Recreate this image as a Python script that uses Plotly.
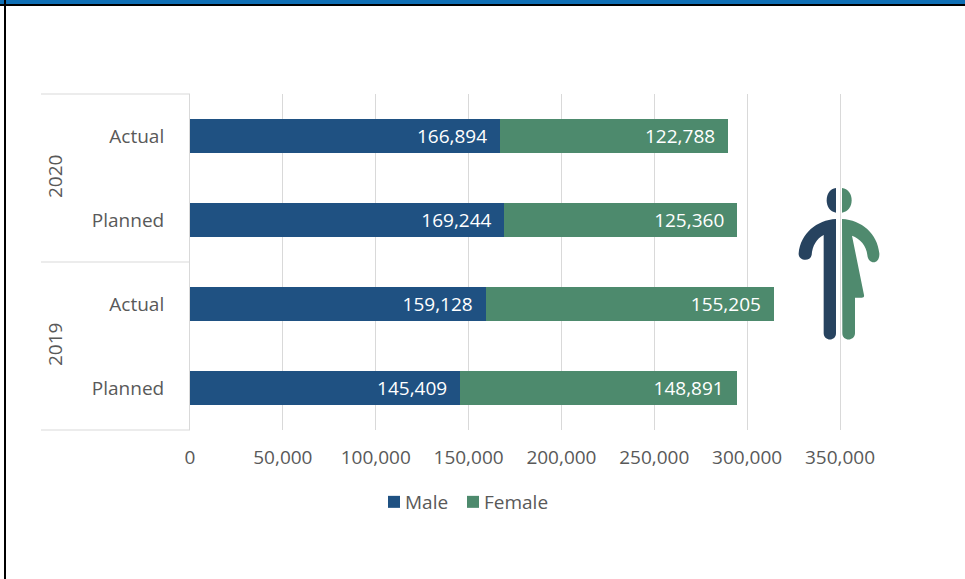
import plotly.graph_objects as go

years = ["2019", "2019", "2020", "2020"]
kinds = ["Planned", "Actual", "Planned", "Actual"]
male = [145409, 159128, 169244, 166894]
female = [148891, 155205, 125360, 122788]
x_ticks = [0, 50000, 100000, 150000, 200000, 250000, 300000, 350000]
year_labels = ["2019", "2020"]

W, H = 965, 579
L, R, T, B = 190, 843, 94, 430
TXT = "#595959"
FONT = "Open Sans"
SIZE = 19
LINE = "#D9D9D9"

def px(x, y):
    return (x - L) / (R - L), (B - y) / (B - T)

def icon(points):
    out = ""
    for p in points:
        out += p[0]
        c = []
        for i in range(1, len(p), 2):
            a, b = px(780 + p[i] / 3, 170 + p[i + 1] / 3)
            c.append(f"{a:.5f},{b:.5f}")
        out += " ".join(c)
    return out + "Z"

dark_head = [("M", 168, 54), ("C", 150, 56, 140, 72, 140, 91), ("C", 140, 110, 150, 126, 168, 128)]
dark_body = [("M", 168, 147), ("C", 110, 150, 62, 190, 56, 250), ("C", 54, 272, 90, 278, 95, 255),
             ("C", 97, 228, 110, 205, 131, 195), ("L", 131, 490), ("C", 132, 515, 168, 515, 168, 490)]
green_head = [("M", 186, 54), ("C", 204, 56, 215, 72, 215, 91), ("C", 215, 110, 204, 126, 186, 128)]
green_body = [("M", 186, 147), ("C", 245, 150, 292, 190, 298, 250), ("C", 300, 285, 265, 285, 262, 255),
              ("C", 260, 228, 240, 205, 216, 197), ("L", 252, 375), ("C", 253, 381, 250, 383, 245, 383),
              ("L", 225, 383), ("L", 225, 490), ("C", 224, 515, 187, 515, 187, 490)]

y = [f"{a} {b}" for a, b in zip(years, kinds)]
fig = go.Figure()
common = dict(orientation="h", y=y, texttemplate="%{x:,}\u00a0\u00a0", textposition="inside",
              insidetextanchor="end", insidetextfont=dict(color="white", size=SIZE, family=FONT),
              cliponaxis=False)
fig.add_bar(name="Male", x=male, marker=dict(color="#1F5182", line=dict(width=0)), **common)
fig.add_bar(name="Female", x=female, marker=dict(color="#4D8A6D", line=dict(width=0)), **common)

def rect(x0, x1, y0, y1, col):
    return dict(type="rect", xref="paper", yref="paper", x0=px(x0, 0)[0], x1=px(x1, 0)[0],
                y0=px(0, y0)[1], y1=px(0, y1)[1], fillcolor=col, line_width=0)

shapes = [rect(0, W, 0, 6, "#000000"), rect(0, W, 0, 4, "#0F6FB5"), rect(4, 6, 0, H, "#000000")]
for yy in (94, 262, 430):
    shapes.append(dict(type="line", xref="paper", yref="paper", x0=px(41, 0)[0], x1=0,
                       y0=px(0, yy)[1], y1=px(0, yy)[1], line=dict(color=LINE, width=1)))
for path, col in [(dark_head, "#27435F"), (dark_body, "#27435F"), (green_head, "#4F8A6E"), (green_body, "#4F8A6E")]:
    shapes.append(dict(type="path", xref="paper", yref="paper", path=icon(path), fillcolor=col, line_width=0))

annotations = [dict(text=t, xref="paper", yref="paper", x=px(55, 0)[0], y=px(0, yy)[1], showarrow=False,
                    xanchor="center", yanchor="middle", textangle=-90,
                    font=dict(size=SIZE, color=TXT, family=FONT))
               for t, yy in zip(year_labels, (345, 177))]

fig.update_layout(
    width=W, height=H, autosize=False,
    margin=dict(l=L, r=W - R, t=T, b=H - B, pad=0),
    paper_bgcolor="white", plot_bgcolor="white",
    barmode="stack", bargap=0.595,
    font=dict(family=FONT, size=SIZE, color=TXT),
    showlegend=True,
    legend=dict(orientation="h", x=px(374, 0)[0], xanchor="left", y=px(0, 502)[1], yanchor="middle",
                font=dict(size=SIZE, color=TXT), traceorder="normal"),
    shapes=shapes, annotations=annotations,
    xaxis=dict(range=[0, 350000 * (R - L) / 650], tickvals=x_ticks, tickformat=",", gridcolor=LINE, gridwidth=1,
               zeroline=False, showline=False, ticks="", ticklabelstandoff=14, tickfont=dict(size=SIZE, color=TXT)),
    yaxis=dict(type="category", tickvals=y, ticktext=kinds, showgrid=False, zeroline=False, showline=True,
               linecolor=LINE, linewidth=1, ticks="", ticklabelstandoff=21, tickfont=dict(size=SIZE, color=TXT)),
)
post = """
function tightLegend(){
  var ts=document.querySelectorAll('.legend .traces');
  ts.forEach(function(t,i){
    var tx=t.querySelector('.legendtext');
    tx.setAttribute('x',31);
    var m=/translate\\(([-\\d.]+)[, ]+([-\\d.]+)\\)/.exec(t.getAttribute('transform'));
    if(m){t.setAttribute('transform','translate('+(i*79)+','+m[2]+')');}
  });
}
tightLegend();setTimeout(tightLegend,200);
"""
fig.write_html("out.html", config={"displayModeBar": False},
               post_script="document.body.style.margin='0';" + post)
